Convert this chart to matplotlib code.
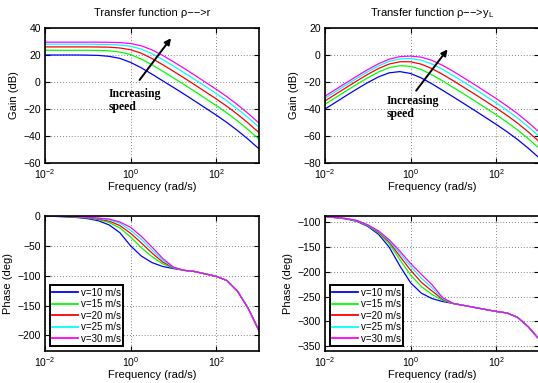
import matplotlib
matplotlib.use('Agg')
import matplotlib.pyplot as plt
from matplotlib.ticker import NullLocator

# ---------------- data ----------------
freq = [0.01, 0.0316, 0.0562, 0.1, 0.178, 0.316, 0.562, 1.0, 1.78, 3.16,
        5.62, 10.0, 17.8, 31.6, 100.0, 178.0, 316.0, 562.0, 1000.0]

speed_labels = ['v=10 m/s', 'v=15 m/s', 'v=20 m/s', 'v=25 m/s', 'v=30 m/s']
colors = ['#0000ff', '#00ff00', '#ff0000', '#00ffff', '#ff00ff']

# rho -> r : gain (dB)
gain_r_v10 = [20.0, 20.0, 20.0, 19.9, 19.7, 19.0, 17.5, 14.5, 10.5, 5.8, 0.9, -4.0, -9.0, -14.1, -24.5, -30.0, -36.0, -42.5, -49.5]
gain_r_v15 = [23.5, 23.5, 23.5, 23.5, 23.4, 23.1, 22.2, 20.3, 17.0, 12.7, 8.0, 3.1, -1.9, -7.0, -17.4, -22.9, -28.9, -35.4, -42.4]
gain_r_v20 = [26.0, 26.0, 26.0, 26.0, 25.9, 25.8, 25.2, 23.9, 21.3, 17.4, 12.8, 8.0, 3.0, -2.1, -12.5, -18.0, -24.0, -30.5, -37.5]
gain_r_v25 = [28.0, 28.0, 28.0, 28.0, 27.9, 27.8, 27.4, 26.5, 24.4, 21.0, 16.6, 11.9, 6.9, 1.9, -8.5, -14.0, -20.0, -26.5, -33.5]
gain_r_v30 = [29.5, 29.5, 29.5, 29.5, 29.5, 29.4, 29.2, 28.5, 26.8, 23.8, 19.7, 15.0, 10.1, 5.0, -5.4, -10.9, -16.9, -23.4, -30.4]

# rho -> r : phase (deg)
phase_r_v10 = [0, -1.5, -2.5, -4.5, -8, -15, -28, -50, -67, -78, -84.5, -88, -91, -93, -101, -108, -126, -155, -192]
phase_r_v15 = [0, -1.0, -1.8, -3.3, -6, -11, -20, -35, -53, -68, -80, -87, -91, -93, -101, -108, -126, -155, -192]
phase_r_v20 = [0, -0.8, -1.5, -2.8, -5, -8.5, -16, -29, -45, -62, -77, -86.5, -91, -93, -101, -108, -126, -155, -192]
phase_r_v25 = [0, -0.6, -1.2, -2.3, -4, -6.5, -12, -24, -39, -57, -74, -86, -91, -93, -101, -108, -126, -155, -192]
phase_r_v30 = [0, -0.5, -1.0, -2.0, -3.5, -5, -10, -19, -34, -52, -71, -85.5, -91, -93, -101, -108, -126, -155, -192]

# rho -> y_L : gain (dB)
gain_y_v10 = [-40.0, -30.0, -25.1, -20.4, -16.2, -13.2, -12.3, -13.7, -17.0, -21.4, -26.2, -31.1, -36.1, -41.1, -51.4, -56.8, -62.6, -69.1, -76.1]
gain_y_v15 = [-36.5, -26.5, -21.6, -16.9, -12.6, -9.4, -7.9, -8.4, -10.8, -14.7, -19.2, -24.1, -29.0, -34.0, -44.3, -49.7, -55.5, -62.0, -69.0]
gain_y_v20 = [-34.0, -24.0, -19.1, -14.3, -10.0, -6.7, -5.0, -5.0, -6.8, -10.1, -14.4, -19.1, -24.1, -29.0, -39.3, -44.7, -50.5, -57.0, -64.0]
gain_y_v25 = [-32.0, -22.1, -17.2, -12.4, -8.1, -4.7, -2.9, -2.6, -3.9, -6.7, -10.7, -15.3, -20.2, -25.2, -35.5, -40.9, -46.7, -53.2, -60.2]
gain_y_v30 = [-30.5, -20.5, -15.6, -10.8, -6.5, -3.1, -1.2, -0.8, -1.6, -4.0, -7.7, -12.2, -17.1, -22.0, -32.3, -37.7, -43.5, -50.0, -57.0]

# rho -> y_L : phase (deg)
phase_y_v10 = [-88, -93, -98, -108, -124, -150, -188, -222, -243, -254, -260, -264, -268, -272, -280, -283, -292, -311, -336]
phase_y_v15 = [-88, -92.6, -97.2, -106.8, -121.2, -143.3, -175.4, -206.4, -229.7, -245.6, -257.6, -264, -268, -272, -280, -283, -292, -311, -336]
phase_y_v20 = [-88, -92.4, -96.7, -106, -119.5, -139.5, -168.5, -196.6, -221, -238.6, -255.6, -264, -268, -272, -280, -283, -292, -311, -336]
phase_y_v25 = [-88, -92.2, -96.3, -105.5, -118, -137, -162.5, -188.9, -212.6, -232.2, -253.8, -264, -268, -272, -280, -283, -292, -311, -336]
phase_y_v30 = [-88, -92, -96, -105, -117, -135, -158, -183, -205, -226, -252, -264, -268, -272, -280, -283, -292, -311, -336]

gain_r = [gain_r_v10, gain_r_v15, gain_r_v20, gain_r_v25, gain_r_v30]
phase_r = [phase_r_v10, phase_r_v15, phase_r_v20, phase_r_v25, phase_r_v30]
gain_y = [gain_y_v10, gain_y_v15, gain_y_v20, gain_y_v25, gain_y_v30]
phase_y = [phase_y_v10, phase_y_v15, phase_y_v20, phase_y_v25, phase_y_v30]

xticks = [1e-2, 1e0, 1e2]

# ---------------- figure ----------------
plt.rcParams.update({
    'font.family': ['Liberation Sans', 'DejaVu Sans'],
    'mathtext.fontset': 'custom',
    'mathtext.rm': 'Liberation Sans',
    'mathtext.it': 'Liberation Sans:italic',
    'mathtext.bf': 'Liberation Sans:bold',
})

W, H = 538, 383
fig = plt.figure(figsize=(W / 100, H / 100), dpi=100)


def add(l, t, w, h):
    return fig.add_axes([l / W, 1 - (t + h) / H, w / W, h / H])


ax_tl = add(45, 28, 214, 135)
ax_tr = add(325, 28, 214, 135)
ax_bl = add(45, 216, 214, 135)
ax_br = add(325, 216, 214, 135)


def style(ax, ylim, yticks, ylabel):
    ax.set_xscale('log')
    ax.set_xlim(1e-2, 1e3)
    ax.set_ylim(*ylim)
    ax.set_xticks(xticks)
    ax.xaxis.set_minor_locator(NullLocator())
    ax.set_yticks(yticks)
    ax.grid(True, linestyle=(0, (1, 2.5)), color='0.35', linewidth=0.6)
    ax.tick_params(direction='in', top=True, right=True, length=3.5,
                   width=0.8, labelsize=7.5, pad=3)
    for s in ax.spines.values():
        s.set_linewidth(1.2)
    ax.set_xlabel('Frequency (rad/s)', fontsize=8, labelpad=1)
    ax.set_ylabel(ylabel, fontsize=8, labelpad=3)


for i in range(5):
    ax_tl.plot(freq, gain_r[i], color=colors[i], lw=0.9)
    ax_tr.plot(freq, gain_y[i], color=colors[i], lw=0.9)
    ax_bl.plot(freq, phase_r[i], color=colors[i], lw=0.9, label=speed_labels[i])
    ax_br.plot(freq, phase_y[i], color=colors[i], lw=0.9, label=speed_labels[i])

style(ax_tl, (-60, 40), [-60, -40, -20, 0, 20, 40], 'Gain (dB)')
style(ax_tr, (-80, 20), [-80, -60, -40, -20, 0, 20], 'Gain (dB)')
style(ax_bl, (-226, 0), [-200, -150, -100, -50, 0], 'Phase (deg)')
style(ax_br, (-360, -87), [-350, -300, -250, -200, -150, -100], 'Phase (deg)')

ax_tl.set_title('Transfer function ρ−−>r', fontsize=8, pad=9)
ax_tr.set_title('Transfer function ρ−−>y$_\\mathregular{L}$', fontsize=8, pad=9)

# annotations
arrow = dict(arrowstyle='-|>', color='k', lw=1.4, mutation_scale=9,
             shrinkA=0, shrinkB=0)
ax_tl.annotate('', xy=(8.8, 32.4), xytext=(1.62, 1.5), arrowprops=arrow)
ax_tl.text(0.31, -13.7, 'Increasing\nspeed', fontsize=8.5, fontweight='bold',
           family='Liberation Serif', ha='left', va='center', linespacing=1.2)
ax_tr.annotate('', xy=(7.3, 4.2), xytext=(1.35, -26.4), arrowprops=arrow)
ax_tr.text(0.275, -38.9, 'Increasing\nspeed', fontsize=8.5, fontweight='bold',
           family='Liberation Serif', ha='left', va='center', linespacing=1.2)

for ax in (ax_bl, ax_br):
    leg = ax.legend(loc='lower left', bbox_to_anchor=(5 / 214, 5 / 135),
                    borderaxespad=0, fontsize=7, fancybox=False,
                    edgecolor='k', framealpha=1, handlelength=2.6,
                    handletextpad=0.3, borderpad=0.25, labelspacing=0.15)
    leg.get_frame().set_linewidth(1.4)
    for ln in leg.get_lines():
        ln.set_linewidth(1.3)

fig.savefig('out.png', dpi=100)
